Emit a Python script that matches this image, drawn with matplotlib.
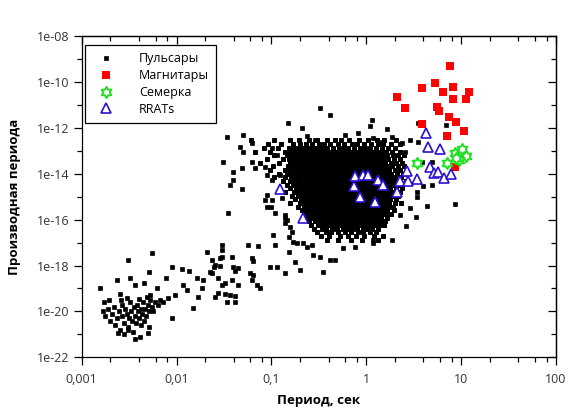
import numpy as np
import matplotlib
matplotlib.use("Agg")
import matplotlib.pyplot as plt
from matplotlib.path import Path
from matplotlib.ticker import FixedLocator, NullFormatter

# ------------------------------------------------------------
#  Data (log10 P [s], log10 Pdot)
# ------------------------------------------------------------

# millisecond pulsars + bridge towards the normal ones
msp = [
    (-2.78, -20.0), (-2.75, -20.2), (-2.72, -19.9), (-2.70, -20.4), (-2.68, -20.1),
    (-2.66, -19.8), (-2.65, -20.6), (-2.63, -20.3), (-2.61, -20.0), (-2.60, -20.8),
    (-2.58, -19.7), (-2.57, -20.2), (-2.55, -20.5), (-2.54, -19.9), (-2.52, -20.1),
    (-2.51, -20.7), (-2.50, -20.3), (-2.49, -19.6), (-2.48, -20.0), (-2.47, -20.4),
    (-2.46, -20.9), (-2.45, -19.8), (-2.44, -20.2), (-2.43, -20.5), (-2.42, -19.7),
    (-2.41, -20.0), (-2.40, -20.3), (-2.39, -21.1), (-2.38, -19.9), (-2.37, -20.6),
    (-2.36, -20.1), (-2.35, -19.6), (-2.34, -20.4), (-2.33, -19.9), (-2.32, -20.2),
    (-2.30, -19.7), (-2.29, -20.0), (-2.28, -19.5), (-2.26, -19.8), (-2.25, -20.0),
    (-2.23, -19.6), (-2.20, -19.7), (-2.62, -20.95), (-2.55, -21.0), (-2.44, -21.2),
    (-2.76, -19.6), (-2.71, -19.5), (-2.59, -19.5), (-2.52, -19.4), (-2.60, -19.25),
    (-2.40, -19.45), (-2.28, -19.3), (-2.17, -19.5), (-2.30, -20.94), (-2.51, -20.81),
    (-2.29, -20.68),
    (-2.81, -18.98), (-2.51, -17.76), (-2.26, -17.46), (-2.63, -18.63), (-2.49, -18.54),
    (-2.29, -18.29), (-2.34, -18.76), (-2.44, -18.85), (-2.21, -18.98), (-2.11, -18.54),
    (-2.05, -18.07), (-1.94, -18.15), (-1.87, -18.24), (-1.93, -18.85), (-1.78, -18.54),
    (-1.72, -18.63), (-1.73, -18.98), (-1.89, -19.07), (-2.02, -19.29), (-2.09, -19.42),
    (-2.14, -19.59), (-2.31, -19.37), (-2.05, -20.29), (-1.83, -19.85), (-1.77, -19.37),
    (-1.52, -17.32), (-1.63, -17.76), (-1.54, -17.67), (-1.61, -18.07), (-1.54, -18.02),
    (-1.35, -18.11), (-1.38, -18.24), (-1.63, -18.33), (-1.56, -18.54), (-1.49, -18.76),
    (-1.42, -18.63), (-1.35, -18.85), (-1.52, -18.85), (-1.56, -19.20), (-1.49, -19.24),
    (-1.44, -19.29), (-1.59, -19.37), (-1.38, -19.33), (-1.47, -19.59), (-1.38, -19.59),
    (-1.14, -17.15), (-1.19, -17.80), (-1.23, -18.33), (-1.20, -18.63), (-1.15, -18.85),
    (-1.12, -18.98), (-1.01, -18.07),
    (-1.68, -17.41), (-1.52, -17.11), (-1.52, -17.63), (-1.42, -17.63), (-1.60, -17.98),
    (-1.40, -18.07), (-1.65, -18.28), (-1.25, -17.11), (-1.21, -17.67), (-0.94, -18.07),
    (-0.86, -18.33), (-0.82, -17.41), (-0.70, -18.20), (-0.75, -17.85), (-0.46, -18.28),
    (-0.56, -17.54), (-0.38, -17.76), (-0.33, -17.76), (-1.19, -18.41),
]

# scattered normal pulsars around the main cloud
sparse = [
    (-0.49, -11.14), (-0.38, -11.44), (-0.83, -11.79), (-0.68, -12.01), (-1.47, -12.40),
    (-1.30, -12.31), (-0.63, -12.36), (-0.54, -12.53), (-0.22, -12.31), (-0.09, -12.23),
    (0.06, -11.66), (0.04, -11.92), (0.07, -12.44), (0.22, -12.05), (0.27, -12.40),
    (0.17, -12.62), (0.38, -12.66), (0.46, -12.53), (0.54, -11.79), (0.54, -12.62),
    (0.84, -11.88), (0.41, -13.05), (0.59, -13.49), (0.69, -13.49), (0.69, -14.49),
    (0.60, -14.54), (0.53, -14.80), (0.53, -15.02), (0.64, -15.41), (0.52, -15.89),
    (0.42, -16.28), (0.93, -15.32), (0.27, -16.89), (0.07, -16.89), (0.07, -17.02),
    (-0.12, -17.19), (-0.25, -17.24), (0.35, -15.80), (0.46, -15.49),
    (-1.51, -13.49), (-1.41, -13.93), (-1.31, -13.75), (-1.44, -14.49), (-1.31, -14.67),
    (-1.41, -14.27), (-1.30, -13.05), (-1.33, -12.84), (-1.20, -12.66), (-1.20, -13.49),
    (-1.46, -15.71), (-1.05, -15.45), (-1.07, -15.15), (-1.00, -15.45), (-0.96, -15.71),
    (-0.86, -15.93), (-0.86, -16.15), (-0.80, -16.32), (-0.98, -16.67), (-0.96, -17.11),
    (-0.81, -16.76), (-0.77, -16.98), (-0.67, -17.02), (-0.99, -12.88), (-0.94, -13.19),
    (-1.07, -13.71), (-1.17, -13.75), (-1.05, -14.06), (-0.99, -14.27), (-0.91, -14.06),
    (-1.05, -14.93), (-0.89, -15.06), (-0.99, -15.15), (-0.86, -15.80), (-0.78, -16.54),
    (-0.73, -17.02), (-0.63, -17.19), (-0.57, -17.11), (-0.49, -17.63), (-0.84, -16.02),
]

# dense core of normal pulsars, one row per log10 Pdot level
core_pdot = [-12.55, -12.72, -12.88, -13.04, -13.20, -13.36, -13.52, -13.68, -13.84,
             -14.00, -14.16, -14.32, -14.48, -14.64, -14.80, -14.96, -15.12, -15.28,
             -15.44, -15.60, -15.76, -15.92, -16.08, -16.24, -16.40, -16.56, -16.72,
             -16.90]
core_p = [
    [-1.22, -0.97, -0.80, -0.71, -0.60, -0.52, -0.41, -0.33, -0.27, -0.18, -0.08, 0.02, 0.11, 0.19, 0.31],
    [-1.04, -0.90, -0.77, -0.70, -0.64, -0.57, -0.50, -0.45, -0.38, -0.30, -0.24, -0.15, -0.10, -0.02, 0.05, 0.12, 0.18, 0.26, 0.36],
    [-1.08, -0.93, -0.82, -0.76, -0.71, -0.66, -0.60, -0.55, -0.51, -0.46, -0.41, -0.35, -0.29, -0.24, -0.19, -0.13, -0.07, -0.01, 0.04, 0.10, 0.17, 0.23, 0.30],
    [-1.17, -1.02, -0.86, -0.81, -0.77, -0.72, -0.68, -0.63, -0.59, -0.54, -0.50, -0.45, -0.41, -0.36, -0.32, -0.27, -0.22, -0.18, -0.13, -0.09, -0.04, 0.01, 0.06, 0.11, 0.15, 0.21, 0.27, 0.35],
    [-0.97, -0.84, -0.79, -0.74, -0.70, -0.65, -0.61, -0.57, -0.52, -0.48, -0.43, -0.39, -0.35, -0.30, -0.26, -0.21, -0.17, -0.12, -0.08, -0.03, 0.02, 0.07, 0.12, 0.17, 0.22, 0.28, 0.33, 0.40],
    [-1.05, -0.88, -0.82, -0.77, -0.72, -0.68, -0.63, -0.59, -0.55, -0.50, -0.46, -0.42, -0.37, -0.33, -0.29, -0.24, -0.20, -0.15, -0.11, -0.06, -0.02, 0.03, 0.08, 0.13, 0.18, 0.23, 0.29, 0.35],
    [-1.12, -0.92, -0.80, -0.75, -0.70, -0.66, -0.61, -0.57, -0.53, -0.48, -0.44, -0.40, -0.35, -0.31, -0.27, -0.22, -0.18, -0.13, -0.09, -0.04, 0.00, 0.05, 0.10, 0.15, 0.20, 0.26, 0.31, 0.38],
    [-0.98, -0.83, -0.78, -0.73, -0.69, -0.64, -0.60, -0.56, -0.51, -0.47, -0.43, -0.38, -0.34, -0.30, -0.25, -0.21, -0.16, -0.12, -0.07, -0.03, 0.02, 0.07, 0.12, 0.17, 0.22, 0.27, 0.33, 0.40],
    [-1.02, -0.86, -0.80, -0.75, -0.71, -0.66, -0.62, -0.58, -0.53, -0.49, -0.45, -0.40, -0.36, -0.32, -0.27, -0.23, -0.19, -0.14, -0.10, -0.05, -0.01, 0.04, 0.09, 0.14, 0.19, 0.24, 0.30, 0.36],
    [-0.92, -0.84, -0.78, -0.73, -0.69, -0.64, -0.60, -0.56, -0.51, -0.47, -0.43, -0.38, -0.34, -0.30, -0.25, -0.21, -0.17, -0.12, -0.08, -0.03, 0.01, 0.06, 0.11, 0.16, 0.21, 0.26, 0.32, 0.39],
    [-0.97, -0.86, -0.79, -0.74, -0.70, -0.65, -0.61, -0.57, -0.52, -0.48, -0.44, -0.39, -0.35, -0.31, -0.26, -0.22, -0.18, -0.13, -0.09, -0.04, 0.00, 0.05, 0.10, 0.15, 0.20, 0.25, 0.30, 0.37],
    [-0.88, -0.80, -0.75, -0.71, -0.66, -0.62, -0.58, -0.53, -0.49, -0.45, -0.40, -0.36, -0.32, -0.27, -0.23, -0.19, -0.14, -0.10, -0.05, -0.01, 0.04, 0.09, 0.14, 0.19, 0.24, 0.29, 0.35, 0.42],
    [-0.84, -0.77, -0.72, -0.68, -0.63, -0.59, -0.55, -0.50, -0.46, -0.42, -0.37, -0.33, -0.29, -0.24, -0.20, -0.16, -0.11, -0.07, -0.02, 0.02, 0.07, 0.12, 0.17, 0.22, 0.27, 0.33],
    [-0.80, -0.74, -0.69, -0.65, -0.60, -0.56, -0.52, -0.47, -0.43, -0.39, -0.34, -0.30, -0.26, -0.21, -0.17, -0.13, -0.08, -0.04, 0.01, 0.05, 0.10, 0.15, 0.20, 0.25, 0.31, 0.38],
    [-0.86, -0.76, -0.71, -0.66, -0.62, -0.57, -0.53, -0.49, -0.44, -0.40, -0.36, -0.31, -0.27, -0.23, -0.18, -0.14, -0.10, -0.05, -0.01, 0.04, 0.08, 0.13, 0.18, 0.23, 0.28, 0.35],
    [-0.78, -0.72, -0.67, -0.63, -0.58, -0.54, -0.50, -0.45, -0.41, -0.37, -0.32, -0.28, -0.24, -0.19, -0.15, -0.11, -0.06, -0.02, 0.03, 0.07, 0.12, 0.17, 0.22, 0.27, 0.33],
    [-0.75, -0.69, -0.64, -0.60, -0.55, -0.51, -0.47, -0.42, -0.38, -0.34, -0.29, -0.25, -0.21, -0.16, -0.12, -0.08, -0.03, 0.01, 0.06, 0.10, 0.15, 0.20, 0.25, 0.31],
    [-0.80, -0.70, -0.65, -0.61, -0.56, -0.52, -0.48, -0.43, -0.39, -0.35, -0.30, -0.26, -0.22, -0.17, -0.13, -0.09, -0.04, 0.00, 0.05, 0.09, 0.14, 0.19, 0.24, 0.30, 0.37],
    [-0.72, -0.66, -0.62, -0.57, -0.53, -0.49, -0.44, -0.40, -0.36, -0.31, -0.27, -0.23, -0.18, -0.14, -0.10, -0.05, -0.01, 0.04, 0.08, 0.13, 0.18, 0.23, 0.28],
    [-0.68, -0.63, -0.58, -0.54, -0.50, -0.45, -0.41, -0.37, -0.32, -0.28, -0.24, -0.19, -0.15, -0.11, -0.06, -0.02, 0.03, 0.07, 0.12, 0.17, 0.22, 0.29],
    [-0.66, -0.60, -0.55, -0.51, -0.46, -0.42, -0.38, -0.33, -0.29, -0.25, -0.20, -0.16, -0.12, -0.07, -0.03, 0.02, 0.06, 0.11, 0.16, 0.21, 0.26],
    [-0.62, -0.57, -0.52, -0.48, -0.43, -0.39, -0.35, -0.30, -0.26, -0.22, -0.17, -0.13, -0.09, -0.04, 0.00, 0.05, 0.10, 0.15, 0.22],
    [-0.60, -0.54, -0.49, -0.44, -0.40, -0.36, -0.31, -0.27, -0.23, -0.18, -0.14, -0.10, -0.05, -0.01, 0.04, 0.09, 0.14, 0.20],
    [-0.58, -0.51, -0.46, -0.41, -0.37, -0.32, -0.28, -0.24, -0.19, -0.15, -0.11, -0.06, -0.02, 0.03, 0.08, 0.13, 0.19],
    [-0.55, -0.47, -0.42, -0.36, -0.31, -0.25, -0.20, -0.15, -0.10, -0.04, 0.01, 0.06, 0.12],
    [-0.52, -0.43, -0.37, -0.30, -0.22, -0.16, -0.09, -0.03, 0.04, 0.10],
    [-0.48, -0.39, -0.28, -0.19, -0.11, -0.02, 0.08, 0.18],
    [-0.41, -0.30, -0.16, -0.05, 0.12],
]

magnetars = [
    (0.88, -9.31), (0.72, -10.05), (0.91, -10.22), (0.59, -10.27), (0.32, -10.66),
    (1.08, -10.44), (0.81, -10.44), (0.91, -10.75), (1.05, -10.75), (0.41, -11.14),
    (0.75, -11.09), (0.77, -11.27), (0.87, -11.53), (0.94, -11.75), (0.59, -11.83),
    (1.03, -12.14), (0.85, -12.36), (0.93, -13.71),
]

semerka = [
    (0.53, -13.53), (0.93, -13.10), (1.01, -12.93), (1.05, -13.23), (0.98, -13.40),
    (0.85, -13.53), (0.94, -13.30),
]

rrats = [
    (-0.91, -14.67), (-0.67, -15.93), (-0.12, -14.10), (-0.03, -14.06), (0.02, -14.06),
    (-0.13, -14.54), (-0.07, -15.02), (0.09, -15.25), (0.12, -14.27), (0.18, -14.49),
    (0.32, -14.80), (0.36, -14.30), (0.43, -13.90), (0.44, -14.30), (0.53, -14.25),
    (0.63, -12.23), (0.65, -12.84), (0.78, -12.93), (0.67, -13.71), (0.71, -13.97),
    (0.76, -13.93), (0.82, -14.19), (0.89, -14.01),
]

xtick_vals = [1e-3, 1e-2, 1e-1, 1, 10, 100]
xtick_labels = ["0,001", "0,01", "0,1", "1", "10", "100"]
ytick_exp = [-22, -20, -18, -16, -14, -12, -10, -8]
ytick_labels = ["1e-22", "1e-20", "1e-18", "1e-16", "1e-14", "1e-12", "1e-10", "1e-08"]

# ------------------------------------------------------------
#  Style
# ------------------------------------------------------------

plt.rcParams.update({
    "font.family": ["Open Sans", "DejaVu Sans"],
    "font.size": 9,
    "axes.linewidth": 0.9,
})

fig = plt.figure(figsize=(5.81, 4.18), dpi=100)
ax = fig.add_axes([0.1406, 0.1452, 0.8165, 0.7687])

pts = np.array(list(msp) + list(sparse))
core = np.array([(lp, pd_) for pd_, row in zip(core_pdot, core_p) for lp in row])
mag = np.array(magnetars)
sev = np.array(semerka)
rr = np.array(rrats)

hexagram = Path.unit_regular_star(6, 0.58)

ax.plot(10 ** pts[:, 0], 10 ** pts[:, 1], ls="none", marker="s", ms=3.0,
        mfc="black", mec="black", mew=0.5, label="Пульсары", zorder=2)
# dense cloud: same marker, a bit fatter so the overlapping squares close up
ax.plot(10 ** core[:, 0], 10 ** core[:, 1], ls="none", marker="s", ms=3.4,
        mfc="black", mec="black", mew=0.7, zorder=2)
ax.plot(10 ** mag[:, 0], 10 ** mag[:, 1], ls="none", marker="s", ms=5.8,
        mfc="#ff0000", mec="#ff0000", mew=0, label="Магнитары", zorder=3)
ax.plot(10 ** sev[:, 0], 10 ** sev[:, 1], ls="none", marker=hexagram, ms=8,
        mfc="white", mec="#1fe01f", mew=1.4, label="Семерка", zorder=4)
ax.plot(10 ** rr[:, 0], 10 ** rr[:, 1], ls="none", marker="^", ms=6.5,
        mfc="white", mec="#2a10d0", mew=1.2, label="RRATs", zorder=5)

ax.set_xscale("log")
ax.set_yscale("log")
ax.set_xlim(1e-3, 100)
ax.set_ylim(1e-22, 1e-8)

x_minor = [m * 10.0 ** e for e in range(-3, 2) for m in (2, 4, 6, 8)]
y_major = [10.0 ** e for e in ytick_exp]
y_minor = [10.0 ** e for e in range(-21, -8, 2)]

ax.xaxis.set_major_locator(FixedLocator(xtick_vals))
ax.set_xticklabels(xtick_labels)
ax.xaxis.set_minor_locator(FixedLocator(x_minor))
ax.xaxis.set_minor_formatter(NullFormatter())

ax.yaxis.set_major_locator(FixedLocator(y_major))
ax.set_yticklabels(ytick_labels)
ax.yaxis.set_minor_locator(FixedLocator(y_minor))
ax.yaxis.set_minor_formatter(NullFormatter())

ax.tick_params(which="major", direction="out", length=6, width=0.9,
               labelsize=9, labelcolor="#333333")
ax.tick_params(axis="x", which="major", pad=5)
ax.tick_params(axis="y", which="major", pad=3)
ax.tick_params(which="minor", direction="out", length=3.5, width=0.9)

# inward ticks on top and right, no labels
top = ax.secondary_xaxis("top")
top.xaxis.set_major_locator(FixedLocator(xtick_vals))
top.xaxis.set_minor_locator(FixedLocator(x_minor))
top.xaxis.set_major_formatter(NullFormatter())
top.xaxis.set_minor_formatter(NullFormatter())
top.tick_params(which="major", direction="in", length=6, width=0.9)
top.tick_params(which="minor", direction="in", length=3.5, width=0.9)

right = ax.secondary_yaxis("right")
right.yaxis.set_major_locator(FixedLocator(y_major))
right.yaxis.set_minor_locator(FixedLocator(y_minor))
right.yaxis.set_major_formatter(NullFormatter())
right.yaxis.set_minor_formatter(NullFormatter())
right.tick_params(which="major", direction="in", length=6, width=0.9)
right.tick_params(which="minor", direction="in", length=3.5, width=0.9)

ax.set_xlabel("Период, сек", fontweight="bold", fontsize=9.5, labelpad=6)
ax.set_ylabel("Производная периода", fontweight="bold", fontsize=9.5, labelpad=11)

leg = ax.legend(loc="upper left", bbox_to_anchor=(0.007, 0.972), borderaxespad=0,
                frameon=True, fancybox=False, edgecolor="black", framealpha=1,
                fontsize=9, handlelength=2.2, handletextpad=1.5, labelspacing=0.3,
                borderpad=0.6, markerscale=1.0)
leg.get_frame().set_linewidth(0.9)

fig.savefig("out.png", dpi=100)
